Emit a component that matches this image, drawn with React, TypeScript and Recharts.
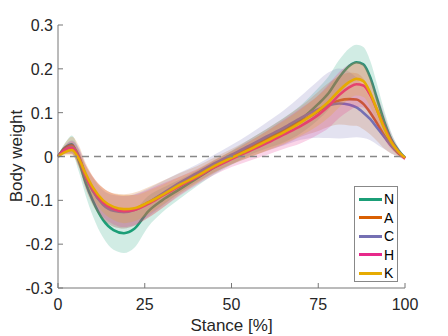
import { Area, ComposedChart, Line, ReferenceLine, XAxis, YAxis } from "recharts";

// stance % sample points
const stance = [0, 2, 4, 6, 8, 10, 13, 16, 19, 22, 26, 30, 35, 40, 45, 50, 55, 60, 65, 70, 75, 78, 81, 84, 86, 88, 90, 92, 94, 96, 98, 100];

const meanN = [0, 0.02, 0.028, -0.01, -0.06, -0.1, -0.145, -0.168, -0.175, -0.165, -0.125, -0.1, -0.075, -0.05, -0.025, -0.003, 0.02, 0.04, 0.06, 0.085, 0.12, 0.145, 0.18, 0.207, 0.215, 0.21, 0.18, 0.13, 0.08, 0.04, 0.015, -0.003];
const meanA = [0, 0.018, 0.025, 0, -0.045, -0.078, -0.108, -0.122, -0.125, -0.12, -0.105, -0.087, -0.063, -0.042, -0.02, 0, 0.018, 0.037, 0.057, 0.08, 0.103, 0.118, 0.128, 0.131, 0.13, 0.12, 0.1, 0.075, 0.048, 0.025, 0.008, -0.004];
const meanC = [0, 0.015, 0.022, 0, -0.045, -0.078, -0.11, -0.124, -0.127, -0.122, -0.105, -0.085, -0.06, -0.038, -0.016, 0.004, 0.024, 0.045, 0.065, 0.088, 0.108, 0.117, 0.121, 0.118, 0.112, 0.1, 0.085, 0.065, 0.045, 0.025, 0.01, -0.002];
const meanH = [0, 0.015, 0.02, -0.003, -0.045, -0.075, -0.105, -0.12, -0.125, -0.122, -0.108, -0.09, -0.068, -0.047, -0.025, -0.006, 0.012, 0.03, 0.05, 0.07, 0.095, 0.115, 0.14, 0.158, 0.165, 0.162, 0.14, 0.105, 0.068, 0.035, 0.012, -0.005];
const meanK = [0, 0.01, 0.015, -0.005, -0.04, -0.07, -0.1, -0.115, -0.12, -0.118, -0.105, -0.088, -0.065, -0.045, -0.022, -0.003, 0.015, 0.035, 0.055, 0.078, 0.105, 0.125, 0.15, 0.17, 0.177, 0.172, 0.145, 0.105, 0.065, 0.033, 0.012, -0.003];

const sdN = [0.003, 0.01, 0.02, 0.025, 0.03, 0.035, 0.04, 0.045, 0.045, 0.043, 0.035, 0.028, 0.022, 0.018, 0.016, 0.016, 0.018, 0.022, 0.028, 0.032, 0.036, 0.038, 0.04, 0.04, 0.04, 0.04, 0.038, 0.033, 0.025, 0.016, 0.008, 0.004];
const sdA = [0.003, 0.012, 0.02, 0.025, 0.03, 0.033, 0.036, 0.038, 0.039, 0.038, 0.035, 0.031, 0.025, 0.02, 0.018, 0.017, 0.02, 0.025, 0.03, 0.035, 0.045, 0.05, 0.055, 0.06, 0.06, 0.058, 0.05, 0.04, 0.03, 0.018, 0.008, 0.004];
const sdC = [0.003, 0.01, 0.015, 0.02, 0.025, 0.03, 0.033, 0.036, 0.037, 0.036, 0.032, 0.028, 0.023, 0.02, 0.02, 0.022, 0.026, 0.032, 0.04, 0.05, 0.065, 0.075, 0.08, 0.075, 0.068, 0.058, 0.048, 0.038, 0.028, 0.018, 0.009, 0.004];
const sdH = [0.003, 0.01, 0.015, 0.02, 0.025, 0.03, 0.033, 0.035, 0.036, 0.035, 0.032, 0.028, 0.022, 0.018, 0.017, 0.018, 0.022, 0.027, 0.033, 0.04, 0.045, 0.05, 0.052, 0.053, 0.052, 0.05, 0.045, 0.037, 0.028, 0.018, 0.009, 0.004];
const sdK = [0.003, 0.008, 0.012, 0.016, 0.02, 0.024, 0.028, 0.03, 0.032, 0.03, 0.027, 0.023, 0.018, 0.015, 0.014, 0.015, 0.018, 0.022, 0.026, 0.03, 0.034, 0.036, 0.038, 0.038, 0.038, 0.036, 0.032, 0.026, 0.02, 0.013, 0.007, 0.003];

const xTicks = [0, 25, 50, 75, 100];
const yTicks = [-0.3, -0.2, -0.1, 0, 0.1, 0.2, 0.3];

const SERIES = [
  { key: "N", mean: meanN, sd: sdN, color: "#1b9e77" },
  { key: "A", mean: meanA, sd: sdA, color: "#d95f02" },
  { key: "C", mean: meanC, sd: sdC, color: "#7570b3" },
  { key: "H", mean: meanH, sd: sdH, color: "#e7298a" },
  { key: "K", mean: meanK, sd: sdK, color: "#e6ab02" },
];

const data = stance.map((x, i) => {
  const row: Record<string, number | number[]> = { x };
  SERIES.forEach((s) => {
    row[s.key] = s.mean[i];
    row[s.key + "band"] = [s.mean[i] - s.sd[i], s.mean[i] + s.sd[i]];
  });
  return row;
});

const W = 448;
const H = 336;
const LEFT = 58;
const TOP = 25;
const BOTTOM = 288;
const TEXT = "#262626";
const AXIS = "#777";
const FONT = "'Liberation Sans', Arial, sans-serif";

const XTick = ({ x, payload }: any) => (
  <g>
    <line x1={x} x2={x} y1={BOTTOM} y2={BOTTOM - 5} stroke={AXIS} />
    <text x={x} y={310} textAnchor="middle" fontSize={16} fill={TEXT} fontFamily={FONT}>
      {payload.value}
    </text>
  </g>
);

const YTick = ({ y, payload }: any) => (
  <g>
    <line x1={LEFT} x2={LEFT + 5} y1={y} y2={y} stroke={AXIS} />
    <text x={53} y={y + 6} textAnchor="end" fontSize={16} fill={TEXT} fontFamily={FONT}>
      {String(payload.value)}
    </text>
  </g>
);

const LegendBox = () => (
  <div
    style={{
      position: "absolute",
      left: 354,
      top: 186,
      width: 42,
      height: 94,
      border: "1px solid #888",
      background: "#fff",
      fontFamily: FONT,
      fontSize: 14,
      color: "#000",
    }}
  >
    {SERIES.map((s, i) => (
      <div key={s.key} style={{ position: "absolute", left: 4, top: 3 + i * 18.5, height: 18, display: "flex", alignItems: "center" }}>
        <span style={{ display: "inline-block", width: 23, height: 3, background: s.color, marginRight: 2 }} />
        <span>{s.key}</span>
      </div>
    ))}
  </div>
);

export default function App() {
  // band then line per series, so later bands tint earlier lines
  const layers = SERIES.flatMap((s, i) => [
    <Area
      key={s.key + "band"}
      type="monotone"
      dataKey={s.key + "band"}
      stroke="none"
      fill={s.color}
      fillOpacity={0.2}
      isAnimationActive={false}
      activeDot={false}
      legendType="none"
      zIndex={110 + i * 2}
    />,
    <Line
      key={s.key}
      type="monotone"
      dataKey={s.key}
      stroke={s.color}
      strokeWidth={2.6}
      dot={false}
      activeDot={false}
      isAnimationActive={false}
      zIndex={111 + i * 2}
    />,
  ]);

  return (
    <div style={{ position: "absolute", left: 0, top: 0, width: W, height: H, background: "#fff" }}>
      <ComposedChart width={W} height={H} data={data} margin={{ top: TOP, right: 43, bottom: 0, left: 0 }}>
        <XAxis
          type="number"
          dataKey="x"
          domain={[0, 100]}
          ticks={xTicks}
          height={H - BOTTOM}
          axisLine={{ stroke: AXIS }}
          tickLine={false}
          tick={<XTick />}
          label={{
            content: () => (
              <text x={231.5} y={331} textAnchor="middle" fontSize={17} fill={TEXT} fontFamily={FONT}>
                Stance [%]
              </text>
            ),
          }}
        />
        <YAxis
          type="number"
          domain={[-0.3, 0.3]}
          ticks={yTicks}
          width={LEFT}
          axisLine={{ stroke: AXIS }}
          tickLine={false}
          tick={<YTick />}
          allowDataOverflow
          label={{
            content: () => (
              <text x={22} y={156} transform="rotate(-90 22 156)" textAnchor="middle" fontSize={17} fill={TEXT} fontFamily={FONT}>
                Body weight
              </text>
            ),
          }}
        />
        <ReferenceLine y={0} stroke="#888" strokeDasharray="7 5" strokeWidth={1.3} />
        {layers}
      </ComposedChart>
      <LegendBox />
    </div>
  );
}
